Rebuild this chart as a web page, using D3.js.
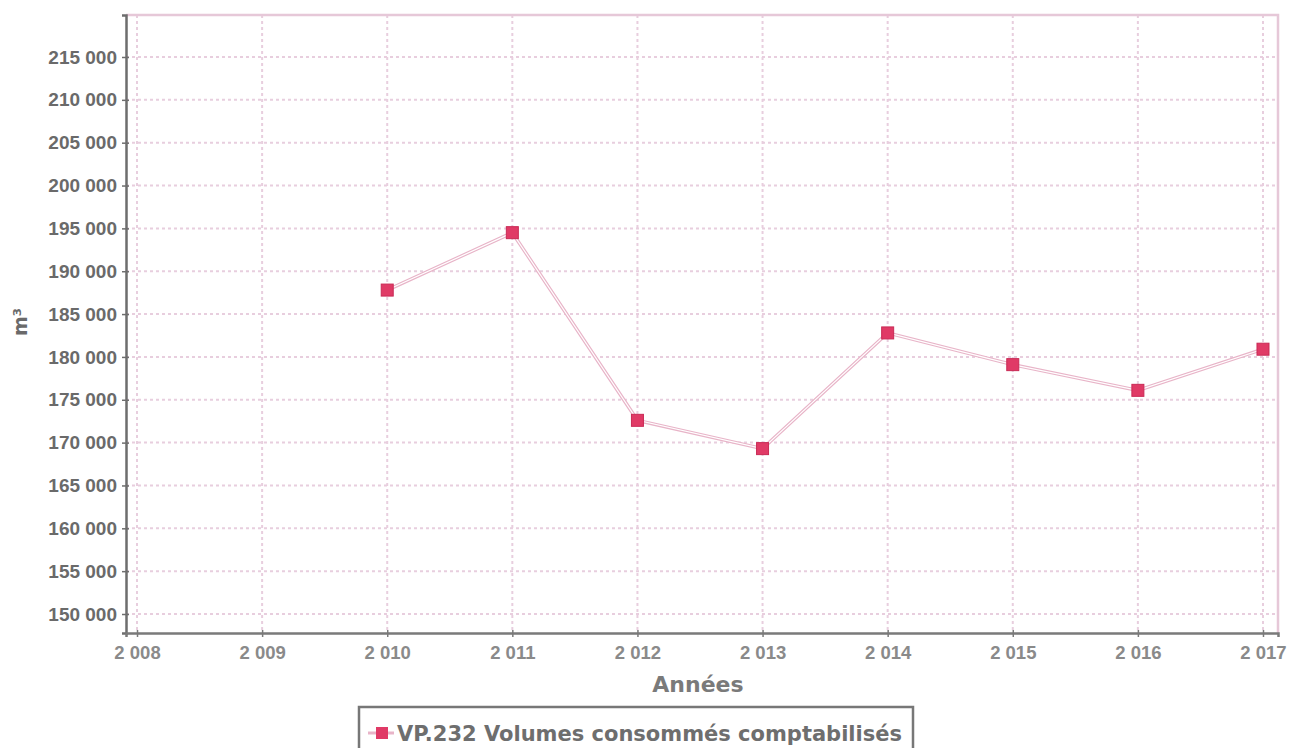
<!DOCTYPE html>
<html><head><meta charset="utf-8">
<script src="https://cdn.jsdelivr.net/npm/d3@7"></script>
<style>
html,body{margin:0;padding:0;background:#fff;}
svg{display:block;font-family:"DejaVu Sans",sans-serif;}
</style></head>
<body>
<svg id="c" width="1289" height="748"></svg>
<script>
const years = [2010, 2011, 2012, 2013, 2014, 2015, 2016, 2017];
const volumes = [187800, 194500, 172600, 169300, 182800, 179100, 176100, 180900];
const xTickValues = [2008, 2009, 2010, 2011, 2012, 2013, 2014, 2015, 2016, 2017];
const yTickValues = [150000, 155000, 160000, 165000, 170000, 175000, 180000, 185000, 190000, 195000, 200000, 205000, 210000, 215000];
const seriesName = "VP.232 Volumes consommés comptabilisés";
const xTitle = "Années";
const yTitle = "m³";

const svg = d3.select("#c");
const L = 126, R = 1278, T = 15, B = 633;
const x = d3.scaleLinear().domain([2007.912, 2017.12]).range([L, R]);
const y = d3.scaleLinear().domain([147783, 219900]).range([B, T]);
const loc = d3.formatLocale({decimal: ",", thousands: " ", grouping: [3], currency: ["", ""]});
const fmt = loc.format(",d");

const gridCol = "#e8cede";
// grid
svg.append("g").selectAll("line").data(yTickValues).join("line")
  .attr("x1", L).attr("x2", R).attr("y1", d => y(d)).attr("y2", d => y(d))
  .attr("stroke", gridCol).attr("stroke-width", 2).attr("stroke-dasharray", "3,3");
svg.append("g").selectAll("line").data(xTickValues).join("line")
  .attr("y1", T).attr("y2", B).attr("x1", d => x(d)).attr("x2", d => x(d))
  .attr("stroke", gridCol).attr("stroke-width", 2).attr("stroke-dasharray", "3,3");
// top and right border
svg.append("path").attr("d", `M${L},${T}H${R}V${B}`).attr("fill", "none")
  .attr("stroke", "#e6c8d8").attr("stroke-width", 2.5);

// axes
const yAxis = d3.axisLeft(y).tickValues(yTickValues).tickFormat(fmt).tickSize(4).tickPadding(4);
const gy = svg.append("g").attr("transform", `translate(${L},0)`).call(yAxis);
gy.select(".domain").attr("stroke", "#6e6e6e").attr("stroke-width", 2.5);
gy.selectAll(".tick line").attr("stroke", "#6e6e6e").attr("stroke-width", 1.5).attr("x2", -4).attr("x1", 3);
gy.selectAll(".tick text").attr("fill", "#6a6a6a").style("font-size", "19px").style("font-weight", "bold").attr("x", -9);

const xAxis = d3.axisBottom(x).tickValues(xTickValues).tickFormat(fmt).tickSize(4).tickPadding(9);
const gx = svg.append("g").attr("transform", `translate(0,${B})`).call(xAxis);
gx.select(".domain").attr("stroke", "#7a7a7a").attr("stroke-width", 2.5);
gx.selectAll(".tick line").attr("stroke", "#7a7a7a").attr("stroke-width", 1.5).attr("y1", -3).attr("y2", 4);
gx.selectAll(".tick text").attr("fill", "#8a8a8a").style("font-size", "18.5px").style("font-weight", "bold");

// titles
svg.append("text").attr("x", 698).attr("y", 692).attr("text-anchor", "middle")
  .attr("fill", "#7a7a7a").style("font-size", "22px").style("font-weight", "bold").text(xTitle);
svg.append("text").attr("transform", "translate(27,322) rotate(-90)").attr("text-anchor", "middle")
  .attr("fill", "#6a6a6a").style("font-size", "19px").style("font-weight", "bold").text(yTitle);

// line
const data = years.map((yr, i) => ({yr, v: volumes[i]}));
const line = d3.line().x(d => x(d.yr)).y(d => y(d.v));
svg.append("path").datum(data).attr("d", line).attr("fill", "none").attr("stroke", "#e8b4c8").attr("stroke-width", 3.5);
svg.append("path").datum(data).attr("d", line).attr("fill", "none").attr("stroke", "#fff").attr("stroke-width", 1.2);
svg.append("g").selectAll("rect").data(data).join("rect")
  .attr("x", d => x(d.yr) - 6).attr("y", d => y(d.v) - 6).attr("width", 12).attr("height", 12)
  .attr("fill", "#e03a66").attr("stroke", "#c92a55").attr("stroke-width", 1);

// legend
const lg = svg.append("g");
lg.append("path").attr("d", "M359,752V707H913V752").attr("fill", "none").attr("stroke", "#777").attr("stroke-width", 2.5);
lg.append("line").attr("x1", 368).attr("x2", 394).attr("y1", 733).attr("y2", 733).attr("stroke", "#e8b4c8").attr("stroke-width", 3);
lg.append("rect").attr("x", 376).attr("y", 727).attr("width", 12).attr("height", 12).attr("fill", "#e03a66");
lg.append("text").attr("x", 397).attr("y", 741).attr("fill", "#6e6e6e").style("font-size", "21px").style("font-weight", "bold").text(seriesName);
</script>
</body></html>
